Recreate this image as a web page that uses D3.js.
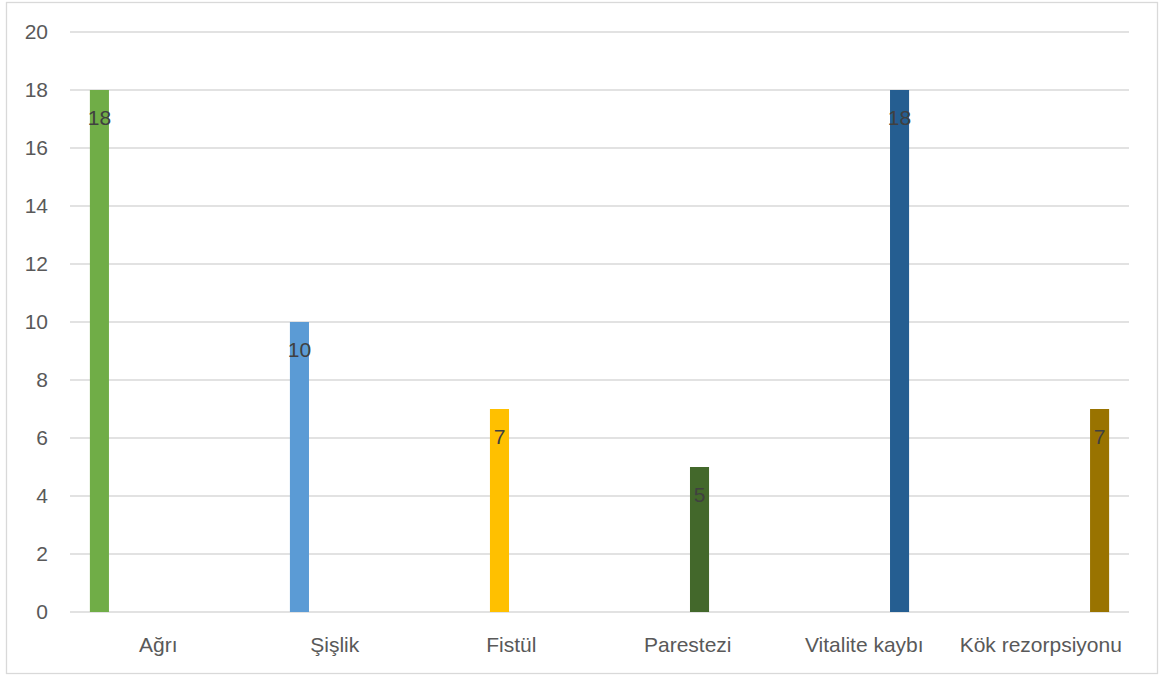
<!DOCTYPE html>
<html>
<head>
<meta charset="utf-8">
<script src="https://cdn.jsdelivr.net/npm/d3@7"></script>
<style>
  body { margin: 0; background: #fff; }
  text { font-family: "Liberation Sans", Arial, sans-serif; }
</style>
</head>
<body>
<div id="chart"></div>
<script>
const categories = ["Ağrı", "Şişlik", "Fistül", "Parestezi", "Vitalite kaybı", "Kök rezorpsiyonu"];
const values = [18, 10, 7, 5, 18, 7];
const colors = ["#70ad47", "#5b9bd5", "#ffc000", "#43682b", "#255e91", "#997300"];
const yTicks = [0, 2, 4, 6, 8, 10, 12, 14, 16, 18, 20];

const WIDTH = 1165;
const HEIGHT = 675;
const MARGIN = { TOP: 32, RIGHT: 36, BOTTOM: 63, LEFT: 70 };

const svg = d3
  .select("#chart")
  .append("svg")
  .attr("width", WIDTH)
  .attr("height", HEIGHT);

// chart frame
svg
  .append("rect")
  .attr("x", 6.5)
  .attr("y", 2.5)
  .attr("width", 1151)
  .attr("height", 671)
  .style("fill", "none")
  .style("stroke", "#d9d9d9")
  .style("stroke-width", "1.3px");

const g = svg.append("g").attr("transform", `translate(${MARGIN.LEFT}, ${MARGIN.TOP})`);
const innerW = WIDTH - MARGIN.LEFT - MARGIN.RIGHT;
const innerH = HEIGHT - MARGIN.TOP - MARGIN.BOTTOM;

const x = d3.scaleBand().domain(categories).range([0, innerW]).padding(0);
// each category is its own series, so the bars sit in their slot of a 6-wide cluster
const cluster = x.bandwidth() * 0.8;
const xInner = d3
  .scaleBand()
  .domain(categories)
  .range([(x.bandwidth() - cluster) / 2, (x.bandwidth() + cluster) / 2])
  .paddingInner(0.19)
  .paddingOuter(0.095);
const y = d3.scaleLinear().domain([0, 20]).range([innerH, 0]);

// gridlines
g.append("g")
  .selectAll("line")
  .data(yTicks)
  .enter()
  .append("line")
  .attr("x1", 0)
  .attr("x2", innerW)
  .attr("y1", (d) => y(d))
  .attr("y2", (d) => y(d))
  .style("stroke", "#d9d9d9")
  .style("stroke-width", "1.5px");

// y axis labels
g.append("g")
  .attr("transform", "translate(-22, 0)")
  .call(d3.axisLeft(y).tickValues(yTicks).tickSize(0).tickPadding(0))
  .call((a) => a.select(".domain").remove())
  .selectAll("text")
  .style("font-family", '"Liberation Sans", Arial, sans-serif')
  .style("font-size", "21px")
  .style("fill", "#595959");

// x axis labels
g.append("g")
  .attr("transform", `translate(0, ${innerH})`)
  .call(d3.axisBottom(x).tickSize(0).tickPadding(25))
  .call((a) => a.select(".domain").remove())
  .selectAll("text")
  .style("font-family", '"Liberation Sans", Arial, sans-serif')
  .style("font-size", "21px")
  .style("fill", "#595959");

// bars
g.selectAll("rect.bar")
  .data(categories)
  .enter()
  .append("rect")
  .attr("class", "bar")
  .attr("x", (d) => x(d) + xInner(d))
  .attr("y", (d, i) => y(values[i]))
  .attr("width", xInner.bandwidth())
  .attr("height", (d, i) => innerH - y(values[i]))
  .style("fill", (d, i) => colors[i]);

// value labels (inside end)
g.selectAll("text.value")
  .data(categories)
  .enter()
  .append("text")
  .attr("class", "value")
  .attr("x", (d) => x(d) + xInner(d) + xInner.bandwidth() / 2)
  .attr("y", (d, i) => y(values[i]) + 28)
  .attr("dy", "0.35em")
  .style("text-anchor", "middle")
  .style("font-size", "21px")
  .style("fill", "#404040")
  .text((d, i) => values[i]);
</script>
</body>
</html>
